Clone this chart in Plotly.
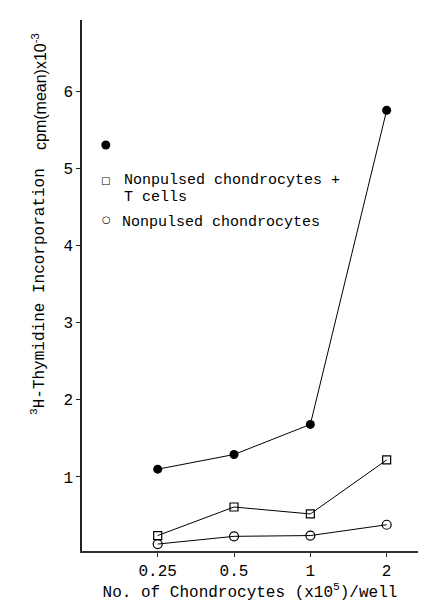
import plotly.graph_objects as go

# Data
x_cells = [0.25, 0.5, 1, 2]
x_ticktext = ["0.25", "0.5", "1", "2"]
pulsed_tcells = [1.10, 1.29, 1.68, 5.75]          # filled circles
nonpulsed_tcells = [0.24, 0.61, 0.52, 1.22]       # open squares
nonpulsed = [0.13, 0.23, 0.24, 0.38]              # open circles
control_x = [0.156]
control_y = [5.30]
y_ticks = [1, 2, 3, 4, 5, 6]

MONO = "Liberation Mono, Courier New, monospace"
NARROW = "Liberation Sans Narrow, Arial Narrow, Liberation Sans, Arial, sans-serif"

fig = go.Figure()
fig.add_trace(go.Scatter(x=x_cells, y=pulsed_tcells, mode="lines+markers",
                         line=dict(color="black", width=1),
                         marker=dict(symbol="circle", size=9, color="black"),
                         showlegend=False))
fig.add_trace(go.Scatter(x=x_cells, y=nonpulsed_tcells, mode="lines+markers",
                         line=dict(color="black", width=1),
                         marker=dict(symbol="square-open", size=8, color="black",
                                     line=dict(width=1.2)),
                         showlegend=False))
fig.add_trace(go.Scatter(x=x_cells, y=nonpulsed, mode="lines+markers",
                         line=dict(color="black", width=1),
                         marker=dict(symbol="circle-open", size=9, color="black",
                                     line=dict(width=1.2)),
                         showlegend=False))
fig.add_trace(go.Scatter(x=control_x, y=control_y, mode="markers",
                         marker=dict(symbol="circle", size=9, color="black"),
                         showlegend=False))

OFF = 8  # default page body margin
W, H = 440 - OFF, 610 - OFF
# plot area edges in window pixels
L, R, T, B = 82, 418, 20, 551


def px(xp):
    return (xp - L) / (R - L)


def py(yp):
    return (B - yp) / (B - T)


ann = []
# legend texts
for txt, xp, yp in [("Nonpulsed chondrocytes +", 122, 181),
                    ("T cells", 122, 198),
                    ("Nonpulsed chondrocytes", 120, 222)]:
    ann.append(dict(text=txt, x=px(xp), y=py(yp), xref="paper", yref="paper",
                    xanchor="left", yanchor="middle", showarrow=False,
                    font=dict(family=MONO, size=15, color="black")))
for sym, xp, yp in [("□", 105, 180), ("○", 106, 219)]:
    ann.append(dict(text=sym, x=px(xp), y=py(yp), xref="paper", yref="paper",
                    xanchor="center", yanchor="middle", showarrow=False,
                    font=dict(family="DejaVu Sans", size=10, color="black")))
# y title parts
ann.append(dict(text="<sup>3</sup>H-Thymidine Incorporation", x=px(38), y=py(292),
                xref="paper", yref="paper", textangle=-90, showarrow=False,
                xanchor="center", yanchor="middle",
                font=dict(family=MONO, size=16, color="black")))
ann.append(dict(text="cpm(mean)x10<sup>-3</sup>", x=px(39), y=py(92),
                xref="paper", yref="paper", textangle=-90, showarrow=False,
                xanchor="center", yanchor="middle",
                font=dict(family=NARROW, size=16, color="black")))

fig.update_layout(
    width=W, height=H,
    margin=dict(l=L - OFF, r=440 - R, t=T - OFF, b=610 - B, pad=0, autoexpand=False),
    paper_bgcolor="white", plot_bgcolor="white",
    annotations=ann,
    xaxis=dict(type="log", range=[-0.9007, 0.4246], automargin=False,
               tickvals=x_cells, ticktext=x_ticktext,
               showgrid=False, zeroline=False,
               showline=True, linecolor="#333", linewidth=1.5,
               ticks="outside", ticklen=4, tickcolor="#333",
               tickfont=dict(family=MONO, size=16, color="black"),
               title=dict(text="No. of Chondrocytes (x10<sup>5</sup>)/well",
                          font=dict(family=MONO, size=16, color="black"),
                          standoff=6)),
    yaxis=dict(range=[0.04, 6.92], tickvals=y_ticks, automargin=False,
               showgrid=False, zeroline=False,
               showline=True, linecolor="#222", linewidth=1.5,
               ticks="outside", ticklen=4, tickcolor="#222",
               tickfont=dict(family=MONO, size=16, color="black")),
)

fig.write_html("out.html")
